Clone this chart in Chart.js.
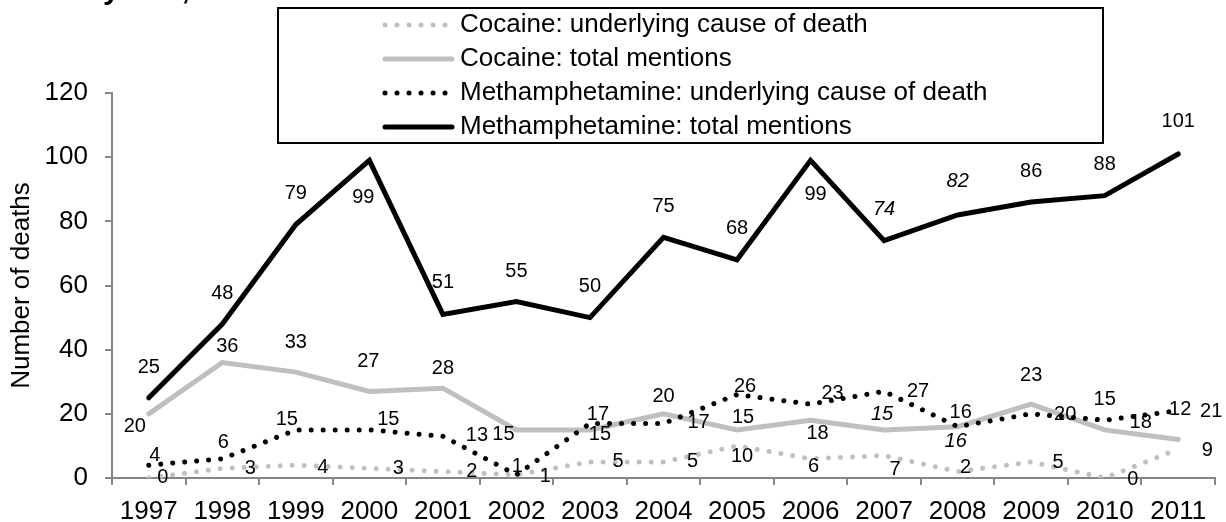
<!DOCTYPE html>
<html>
<head>
<meta charset="utf-8">
<title>Cocaine and methamphetamine deaths, 1997–2011</title>
<script src="https://cdn.jsdelivr.net/npm/chart.js@4.4.1/dist/chart.umd.min.js"></script>
<style>
    body { margin: 0; background: #fff; }
    #wrap { width: 1226px; height: 522px; position: relative; }
</style>
</head>
<body>
<div id="wrap"><canvas id="chart-deaths"></canvas></div>
<script>
// data
const years = ['1997', '1998', '1999', '2000', '2001', '2002', '2003', '2004', '2005', '2006', '2007', '2008', '2009', '2010', '2011'];
const cocaineUnderlying = [0, 3, 4, 3, 2, 1, 5, 5, 10, 6, 7, 2, 5, 0, 9];
const cocaineTotal = [20, 36, 33, 27, 28, 15, 15, 20, 15, 18, 15, 16, 23, 15, 12];
const methUnderlying = [4, 6, 15, 15, 13, 1, 17, 17, 26, 23, 27, 16, 20, 18, 21];
const methTotal = [25, 48, 79, 99, 51, 55, 50, 75, 68, 99, 74, 82, 86, 88, 101];
const yMin = 0, yMax = 120, yStep = 20;
const italicYears = ['2007', '2008'];

const FONT = '"Liberation Sans", Arial, sans-serif';
const AXIS_GREY = '#868686';

// where each value label sits relative to its point [dx, dy]
const offsCocaineUnderlying = [[14, -1], [28, 0], [27, 2], [29, 0], [29, 0], [29, 2], [28, 0], [29, 0], [5, 11], [3, 8], [11, 14], [8, -4], [27, 1], [28, 1], [29, 1]];
const offsCocaineTotal = [[-14, 13], [5, -16], [0, -30], [-1, -30], [0, -20], [-13, 5], [10, 5], [0, -17], [6, -12], [7, 13], [-2, -15], [-2, 15], [0, -29], [0, -30], [2, -30]];
const offsMethUnderlying = [[6, -10], [1, -16], [-9, -10], [19, -10], [34, -1], [1, -8], [8, -9], [35, -1], [8, -8], [22, -11], [34, 0], [3, -14], [34, 1], [36, 2], [33, 1]];
const offsMethTotal = [[0, -30], [0, -31], [0, -31], [-6, 37], [0, -32], [0, -30], [0, -31], [0, -31], [0, -31], [5, 34], [0, -31], [0, -33], [0, -31], [0, -31], [0, -32]];

// value labels drawn next to each point
const pointLabels = {
    id: 'pointLabels',
    afterDatasetsDraw(chart) {
        const ctx = chart.ctx;
        ctx.save();
        ctx.textAlign = 'center';
        ctx.textBaseline = 'middle';
        ctx.fillStyle = '#000';
        chart.data.datasets.forEach(function(ds, di) {
            const meta = chart.getDatasetMeta(di);
            meta.data.forEach(function(pt, i) {
                const off = ds.labelOffsets[i];
                const italic = ds.italicLabels && italicYears.includes(years[i]);
                ctx.font = (italic ? 'italic ' : '') + '20px ' + FONT;
                ctx.fillText(String(ds.data[i]), pt.x + off[0], pt.y + off[1]);
            });
        });
        ctx.restore();
    }
};

// boxed legend + clipped title at the top
const boxLegend = {
    id: 'boxLegend',
    afterDraw(chart) {
        const ctx = chart.ctx;
        ctx.save();
        ctx.fillStyle = '#000';
        ctx.font = 'bold 30px ' + FONT;
        ctx.textAlign = 'left';
        ctx.textBaseline = 'alphabetic';
        ctx.fillText('in years, 1997–2011', 68, -1);

        ctx.fillStyle = '#fff';
        ctx.fillRect(278, 8, 825, 135);
        ctx.strokeStyle = '#000';
        ctx.lineWidth = 2;
        ctx.strokeRect(278, 8, 825, 135);
        chart.data.datasets.forEach(function(ds, i) {
            const y = 25 + i * 34;
            ctx.beginPath();
            ctx.strokeStyle = ds.borderColor;
            ctx.lineWidth = ds.borderWidth;
            ctx.lineCap = ds.borderCapStyle || 'butt';
            ctx.setLineDash(ds.borderDash || []);
            ctx.moveTo(385, y);
            ctx.lineTo(452, y);
            ctx.stroke();
            ctx.setLineDash([]);
            ctx.fillStyle = '#000';
            ctx.font = '26px ' + FONT;
            ctx.textBaseline = 'middle';
            ctx.fillText(ds.label, 460, y);
        });
        ctx.restore();
    }
};

document.addEventListener('DOMContentLoaded', function() {
    const ctx = document.getElementById('chart-deaths').getContext('2d');

    new Chart(ctx, {
        type: 'line',
        data: {
            labels: years,
            datasets: [{
                label: 'Cocaine: underlying cause of death',
                data: cocaineUnderlying,
                borderColor: '#C0C0C0',
                borderWidth: 5,
                borderDash: [0.01, 12],
                borderCapStyle: 'round',
                labelOffsets: offsCocaineUnderlying,
                order: 4
            }, {
                label: 'Cocaine: total mentions',
                data: cocaineTotal,
                borderColor: '#BFBFBF',
                borderWidth: 5,
                borderCapStyle: 'round',
                labelOffsets: offsCocaineTotal,
                italicLabels: true,
                order: 3
            }, {
                label: 'Methamphetamine: underlying cause of death',
                data: methUnderlying,
                borderColor: '#000000',
                borderWidth: 5,
                borderDash: [0.01, 12],
                borderCapStyle: 'round',
                labelOffsets: offsMethUnderlying,
                order: 2
            }, {
                label: 'Methamphetamine: total mentions',
                data: methTotal,
                borderColor: '#000000',
                borderWidth: 5,
                borderCapStyle: 'round',
                labelOffsets: offsMethTotal,
                italicLabels: true,
                order: 1
            }]
        },
        options: {
            responsive: true,
            maintainAspectRatio: false,
            animation: false,
            layout: { padding: { top: 93, right: 11, left: 0, bottom: 0 } },
            elements: {
                point: { radius: 0, hoverRadius: 0 },
                line: { tension: 0, fill: false }
            },
            plugins: {
                legend: { display: false },
                tooltip: { enabled: false }
            },
            scales: {
                x: {
                    offset: true,
                    grid: {
                        display: true,
                        drawOnChartArea: false,
                        drawTicks: true,
                        tickLength: 7,
                        offset: true,
                        color: AXIS_GREY,
                        lineWidth: 2
                    },
                    border: { display: true, color: AXIS_GREY, width: 2 },
                    ticks: {
                        color: '#000',
                        font: { family: FONT, size: 26 },
                        padding: 11,
                        maxRotation: 0,
                        autoSkip: false
                    },
                    afterFit: function(scale) { scale.height = 44; }
                },
                y: {
                    min: yMin,
                    max: yMax,
                    grid: {
                        display: true,
                        drawOnChartArea: false,
                        drawTicks: true,
                        tickLength: 7,
                        color: AXIS_GREY,
                        lineWidth: 2
                    },
                    border: { display: true, color: AXIS_GREY, width: 2 },
                    ticks: {
                        stepSize: yStep,
                        color: '#000',
                        font: { family: FONT, size: 26 },
                        padding: 17
                    },
                    title: {
                        display: true,
                        text: 'Number of deaths',
                        color: '#000',
                        font: { family: FONT, size: 26 },
                        padding: { top: 6, bottom: 0 }
                    },
                    afterFit: function(scale) { scale.width = 112; }
                }
            }
        },
        plugins: [pointLabels, boxLegend]
    });
});
</script>
</body>
</html>
